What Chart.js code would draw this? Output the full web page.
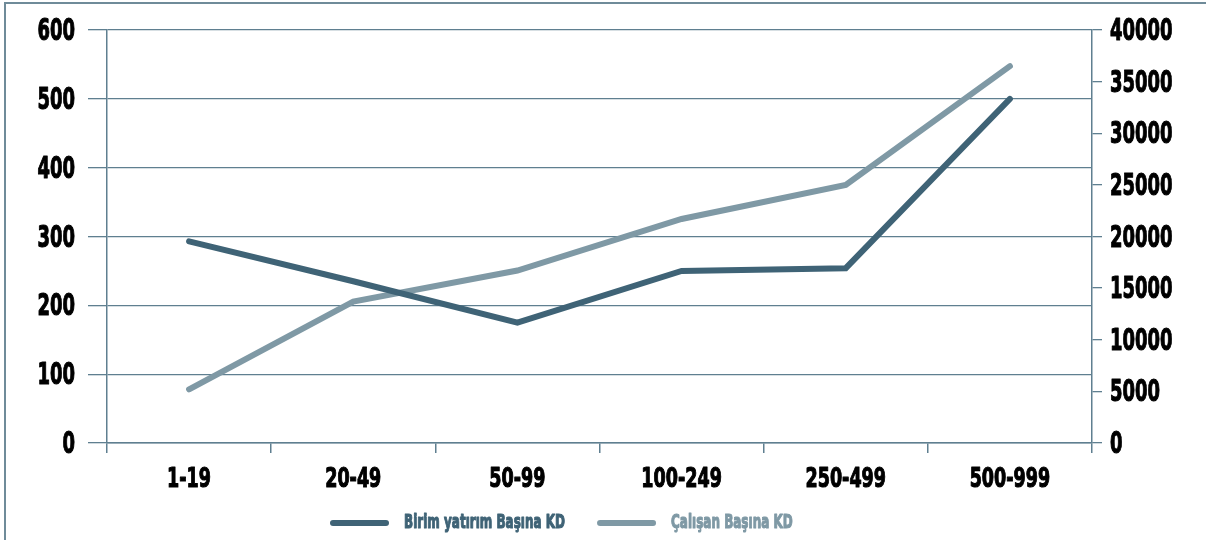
<!DOCTYPE html>
<html>
<head>
<meta charset="utf-8">
<script src="https://cdn.jsdelivr.net/npm/chart.js@4.4.0/dist/chart.umd.min.js"></script>
<style>
  html, body { margin: 0; padding: 0; background: #fff; overflow: hidden; }
  #frame { position: absolute; left: 4px; top: 2px; width: 1300px; height: 700px; border: 2px solid #6f8b99; }
  #wrap { position: absolute; left: 0; top: 0; width: 1206px; height: 540px; }
</style>
</head>
<body>
<div id="frame"></div>
<div id="wrap"><canvas id="chart" width="1206" height="540"></canvas></div>
<script>
const categories = ['1-19', '20-49', '50-99', '100-249', '250-499', '500-999'];
const birimYatirim = [293, 235, 175, 250, 254, 500];
const calisan = [5200, 13700, 16700, 21700, 25000, 36500];
const leftTicks = [0, 100, 200, 300, 400, 500, 600];
const rightTicks = [0, 5000, 10000, 15000, 20000, 25000, 30000, 35000, 40000];

const darkColor = '#3f6376';
const lightColor = '#7f99a5';
const gridColor = '#5f7f90';
const fontFamily = '"DejaVu Sans", sans-serif';

// the original uses a condensed heavy face; squeeze a bold face horizontally
function narrowText(ctx, text, x, y, size, squeeze, align, color) {
  ctx.save();
  ctx.font = 'bold ' + size + 'px ' + fontFamily;
  ctx.fillStyle = color;
  ctx.strokeStyle = color;
  ctx.lineWidth = 1.2;
  ctx.lineJoin = 'round';
  ctx.textAlign = align;
  ctx.textBaseline = 'middle';
  ctx.translate(x, y);
  ctx.scale(squeeze, 1);
  ctx.fillText(text, 0, 0);
  ctx.strokeText(text, 0, 0);
  const w = ctx.measureText(text).width * squeeze;
  ctx.restore();
  return w;
}

const labelsPlugin = {
  id: 'narrowLabels',
  afterDraw(chart) {
    const ctx = chart.ctx;
    const { x, y, y1 } = chart.scales;
    leftTicks.forEach(v => narrowText(ctx, String(v), 75, y.getPixelForValue(v) + 2, 31, 0.58, 'right', '#000'));
    rightTicks.forEach(v => narrowText(ctx, String(v), 1110, y1.getPixelForValue(v) + 2, 31, 0.58, 'left', '#000'));
    categories.forEach((c, i) => narrowText(ctx, c, x.getPixelForValue(i), 480, 27, 0.65, 'center', '#000'));

    // legend
    let lx = 333;
    const ly = 523;
    chart.data.datasets.forEach(ds => {
      ctx.save();
      ctx.strokeStyle = ds.borderColor;
      ctx.lineWidth = 6;
      ctx.lineCap = 'round';
      ctx.beginPath();
      ctx.moveTo(lx, ly);
      ctx.lineTo(lx + 53, ly);
      ctx.stroke();
      ctx.restore();
      const w = narrowText(ctx, ds.label, lx + 71, ly, 20, 0.6, 'left', ds.borderColor);
      lx += 71 + w + 35;
    });
  }
};

new Chart(document.getElementById('chart'), {
  type: 'line',
  data: {
    labels: categories,
    datasets: [
      {
        label: 'Birim yatırım Başına KD',
        data: birimYatirim,
        yAxisID: 'y',
        borderColor: darkColor,
        backgroundColor: darkColor,
        borderWidth: 6,
        borderCapStyle: 'round',
        borderJoinStyle: 'miter',
        pointRadius: 0,
        tension: 0
      },
      {
        label: 'Çalışan Başına KD',
        data: calisan,
        yAxisID: 'y1',
        borderColor: lightColor,
        backgroundColor: lightColor,
        borderWidth: 6,
        borderCapStyle: 'round',
        borderJoinStyle: 'miter',
        pointRadius: 0,
        tension: 0
      }
    ]
  },
  plugins: [labelsPlugin],
  options: {
    responsive: false,
    animation: false,
    layout: { padding: { top: 30, bottom: 0, left: 0, right: 0 } },
    plugins: {
      tooltip: { enabled: false },
      legend: { display: false }
    },
    scales: {
      x: {
        offset: true,
        grid: { offset: true, drawOnChartArea: false, color: gridColor, tickLength: 10, lineWidth: 1.5 },
        border: { color: gridColor, width: 1.5 },
        ticks: { display: false },
        afterFit: (scale) => { scale.height = 97; }
      },
      y: {
        position: 'left',
        min: 0,
        max: 600,
        ticks: { display: false, stepSize: 100 },
        grid: { color: gridColor, tickLength: 19, lineWidth: 1.3 },
        border: { color: gridColor, width: 1.5 },
        afterFit: (scale) => { scale.width = 107; }
      },
      y1: {
        position: 'right',
        min: 0,
        max: 40000,
        ticks: { display: false, stepSize: 5000 },
        grid: { drawOnChartArea: false, color: gridColor, tickLength: 10, lineWidth: 1.3 },
        border: { color: gridColor, width: 1.5 },
        afterFit: (scale) => { scale.width = 114; }
      }
    }
  }
});
</script>
</body>
</html>
